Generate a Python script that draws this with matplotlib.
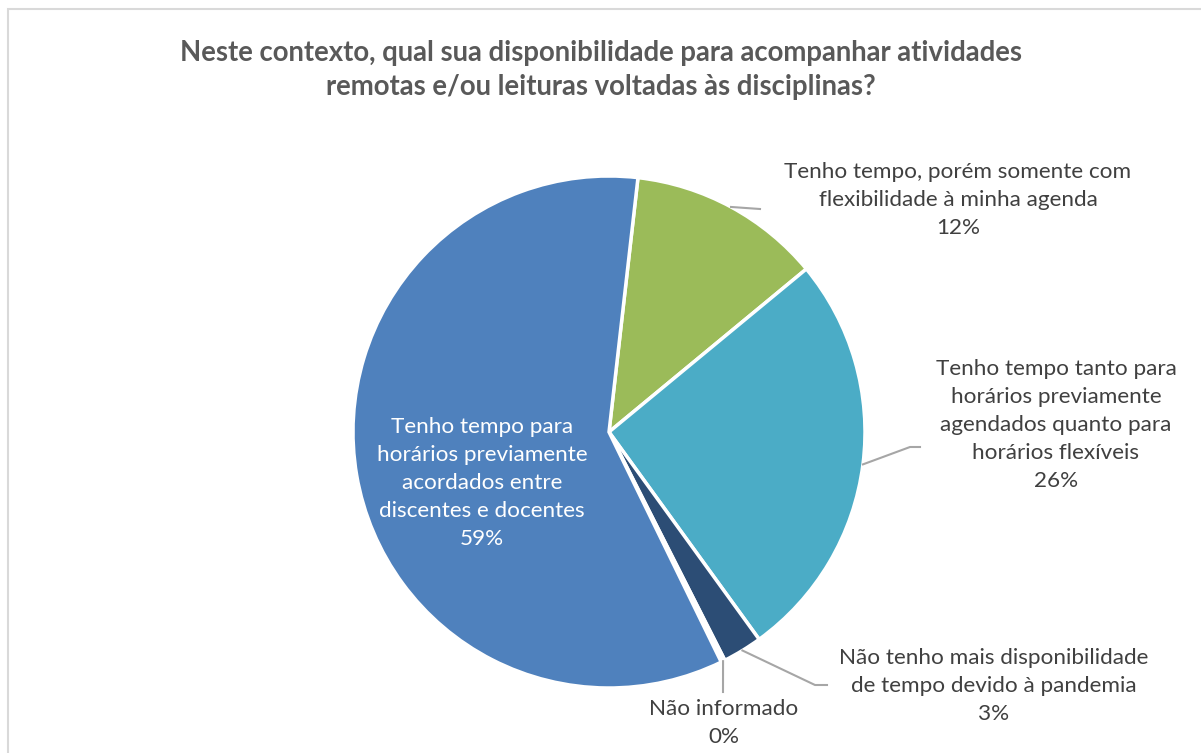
import matplotlib.pyplot as plt
import numpy as np
from matplotlib.patches import Rectangle

plt.rcParams["font.family"] = ["Lato", "DejaVu Sans"]

TITLE = "Neste contexto, qual sua disponibilidade para acompanhar atividades\nremotas e/ou leituras voltadas às disciplinas?"
categories = [
    "Tenho tempo, porém somente com\nflexibilidade à minha agenda",
    "Tenho tempo tanto para\nhorários previamente\nagendados quanto para\nhorários flexíveis",
    "Não tenho mais disponibilidade\nde tempo devido à pandemia",
    "Não informado",
    "Tenho tempo para\nhorários previamente\nacordados entre\ndiscentes e docentes",
]
values = [12.2, 26.0, 2.5, 0.25, 59.0]
pct_labels = ["12%", "26%", "3%", "0%", "59%"]
colors = ["#9BBB59", "#4BACC6", "#2C4D75", "#FFFFFF", "#4F81BD"]

W, H = 1201, 753
fig = plt.figure(figsize=(W / 100, H / 100), dpi=100)
ax = fig.add_axes([0, 0, 1, 1])

cx, cy, R = 609, H - 432, 256
start = 90 - 6.5
wedges, _ = ax.pie(values, colors=colors, startangle=start, counterclock=False,
                   center=(cx, cy), radius=R, frame=True,
                   wedgeprops=dict(edgecolor="white", linewidth=2.5))
ax.set_xlim(0, W)
ax.set_ylim(0, H)
ax.set_aspect("equal")
ax.axis("off")

# chart frame (right/bottom edges run off the image)
ax.add_patch(Rectangle((8, -10), W + 20, H - 9 + 10, fill=False, ec="#D9D9D9", lw=1.5))

fig.text(0.5, 1 - 70 / H, TITLE, ha="center", va="center", fontsize=19.8,
         fontweight="bold", color="#595959", linespacing=1.42)

txt = "#404040"
lead = "#A6A6A6"
# label centre (px) and leader elbow points (px)
label_pos = [(958, 200), (1056, 425), (994, 686), (724, 723), (482, 483)]
elbows = [[(760, 209)], [(910, 447), (920, 447)], [(815, 685), (827, 685)], [(723, 692)], None]

for i, w in enumerate(wedges):
    mid = np.deg2rad((w.theta1 + w.theta2) / 2)
    lx, ly = label_pos[i]
    text = categories[i] + "\n" + pct_labels[i]
    color = "white" if i == 4 else txt
    ax.text(lx, H - ly, text, ha="center", va="center", fontsize=16.2,
            color=color, linespacing=1.5)
    if elbows[i] is not None:
        pts = [(cx + R * np.cos(mid), cy + R * np.sin(mid))]
        pts += [(x, H - y) for x, y in elbows[i]]
        xs, ys = zip(*pts)
        ax.plot(xs, ys, color=lead, lw=1.5)

fig.savefig("out.png", dpi=100)
